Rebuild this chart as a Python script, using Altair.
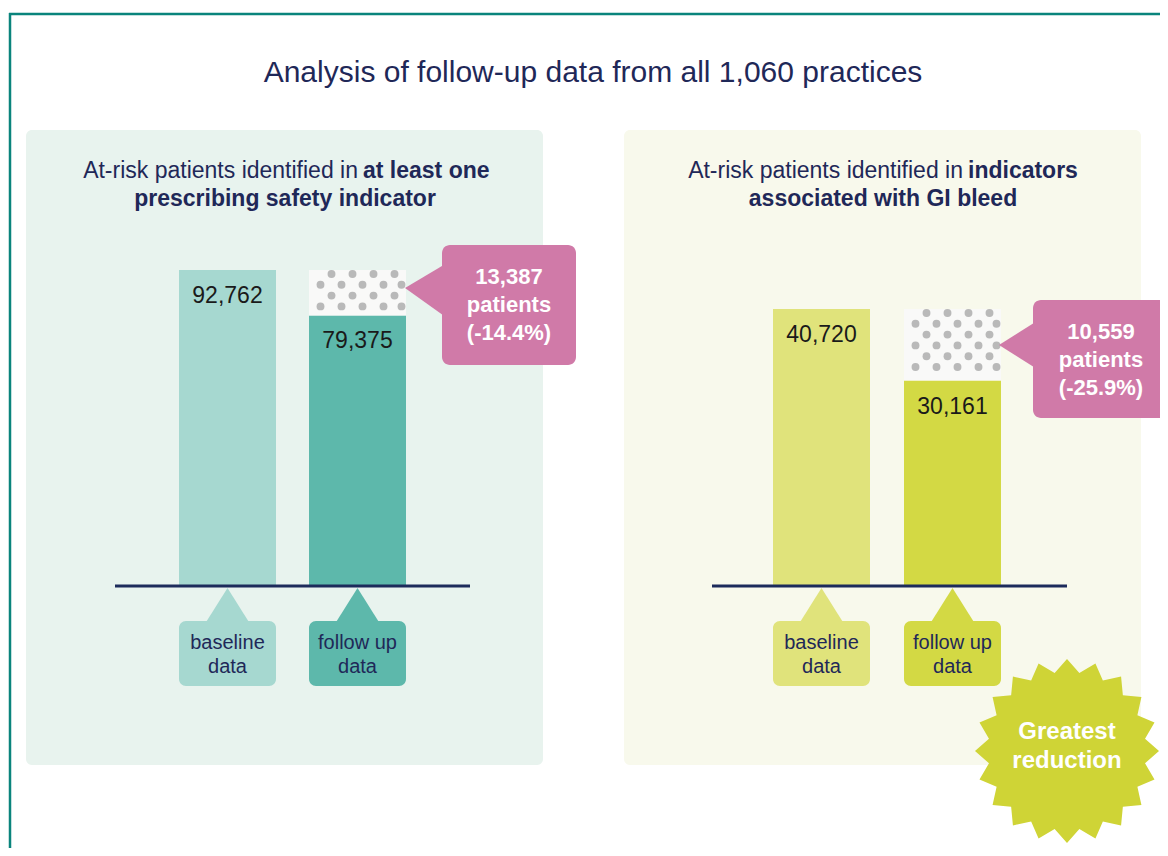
import math
import altair as alt
import pandas as pd

# ---------------- data ----------------
CATEGORIES = ["baseline data", "follow up data"]
ALL_VALUES = [92762, 79375]      # at least one prescribing safety indicator
GI_VALUES = [40720, 30161]       # indicators associated with GI bleed
REDUCTION_PATIENTS = [13387, 10559]
REDUCTION_PCT = ["-14.4%", "-25.9%"]
TITLE = "Analysis of follow-up data from all 1,060 practices"
HEAD_NORMAL = "At-risk patients identified in"
HEAD_BOLD_1 = ["at least one", "indicators"]
HEAD_BOLD_2 = ["prescribing safety indicator", "associated with GI bleed"]
TAG_LINES = [["baseline", "data"], ["follow up", "data"]]
BADGE_LINES = ["Greatest", "reduction"]

# ---------------- layout / style ----------------
OFF = 8
W, H = 1152, 840
FONT = "Liberation Sans"
NAVY = "#1f2858"
PINK = "#d07aa8"
TEAL_BORDER = "#0a847c"

PANELS = [
    dict(values=ALL_VALUES, bg=(26, 543, 130, 765), bgcol="#e8f3ee", band=(179, 406), pad=33 / 130,
         base_px=585, top_px=270, colors=["#a6d8d0", "#5db8ab"], axis=(115, 470),
         split=358, head_cx=285,
         callout=dict(rect=(442, 576, 245, 365), tri=[(405, 288), (447, 263), (447, 318)], cx=509, y=277)),
    dict(values=GI_VALUES, bg=(624, 1141, 130, 765), bgcol="#f8f9ec", band=(773, 1001), pad=34 / 131,
         base_px=585, top_px=309, colors=["#e0e37b", "#d3d944"], axis=(712, 1067),
         split=963, head_cx=883,
         callout=dict(rect=(1033, 1175, 300, 418), tri=[(999, 345), (1037, 321), (1037, 369)], cx=1101, y=332)),
]


def X(f="x"):
    return alt.X(f"{f}:Q", scale=None, axis=None)


def Y(f="y"):
    return alt.Y(f"{f}:Q", scale=None, axis=None)


def rect_px(x0, x1, y0, y1, color, r=0):
    d = pd.DataFrame({"x": [x0 - OFF], "x2": [x1 - OFF], "y": [y0 - OFF], "y2": [y1 - OFF]})
    return alt.Chart(d).mark_rect(color=color, cornerRadius=r, opacity=1).encode(
        x=X(), x2="x2:Q", y=Y(), y2="y2:Q")


def hline_px(x0, x1, y, color, w):
    d = pd.DataFrame({"x": [x0 - OFF], "x2": [x1 - OFF], "y": [y - OFF]})
    return alt.Chart(d).mark_rule(color=color, strokeWidth=w).encode(x=X(), x2="x2:Q", y=Y())


def vline_px(x, y0, y1, color, w):
    d = pd.DataFrame({"x": [x - OFF], "y": [y0 - OFF], "y2": [y1 - OFF]})
    return alt.Chart(d).mark_rule(color=color, strokeWidth=w).encode(x=X(), y=Y(), y2="y2:Q")


def text_px(x, y, lines, size, color, weight="normal", align="center", lh=28):
    d = pd.DataFrame({"x": [x - OFF] * len(lines),
                      "y": [y - OFF + i * lh for i in range(len(lines))],
                      "t": lines})
    return alt.Chart(d).mark_text(font=FONT, fontSize=size, fontWeight=weight, color=color,
                                  align=align, baseline="middle").encode(x=X(), y=Y(), text="t:N")


def poly_px(pts, color):
    xs_ = [p[0] for p in pts]
    ys_ = [p[1] for p in pts]
    cx = (min(xs_) + max(xs_)) / 2
    cy = (min(ys_) + max(ys_)) / 2
    s = max(max(abs(px - cx), abs(py - cy)) for px, py in pts)
    path = "M " + " L ".join(f"{(px - cx) / s:.4f} {(py - cy) / s:.4f}" for px, py in pts) + " Z"
    d = pd.DataFrame({"x": [cx - OFF], "y": [cy - OFF]})
    return alt.Chart(d).mark_point(shape=path, size=(2 * s) ** 2, filled=True, color=color,
                                   opacity=1, strokeWidth=0).encode(x=X(), y=Y())


def band_centers(p):
    x0, x1 = p["band"]
    step = (x1 - x0) / (2 - p["pad"])
    bw = step * (1 - p["pad"])
    return [x0 + i * step + bw / 2 for i in range(2)], bw


def y_scale(p):
    return alt.Scale(domain=[0, p["values"][0]], range=[p["base_px"] - OFF, p["top_px"] - OFF],
                     nice=False, zero=True)


def panel_chart(p):
    vals = p["values"]
    x0, x1 = p["band"]
    xs = alt.Scale(domain=CATEGORIES, range=[x0 - OFF, x1 - OFF], paddingInner=p["pad"], paddingOuter=0)
    ys = y_scale(p)
    cs = alt.Scale(domain=CATEGORIES, range=p["colors"])
    d = pd.DataFrame({"cat": CATEGORIES, "value": vals})
    bars = alt.Chart(d).mark_bar(opacity=1).encode(
        x=alt.X("cat:N", scale=xs, axis=None),
        y=alt.Y("value:Q", scale=ys, axis=None),
        color=alt.Color("cat:N", scale=cs, legend=None))
    gap = alt.Chart(pd.DataFrame({"cat": [CATEGORIES[1]], "hi": [vals[0]], "lo": [vals[1]]})).mark_bar(
        color="#f9f9f8", opacity=1).encode(
        x=alt.X("cat:N", scale=xs, axis=None),
        y=alt.Y("hi:Q", scale=ys, axis=None), y2="lo:Q")
    labels = alt.Chart(d).mark_text(font=FONT, fontSize=23, color="#1a1a1a", baseline="middle", dy=26).encode(
        x=alt.X("cat:N", scale=xs, axis=None),
        y=alt.Y("value:Q", scale=ys, axis=None),
        text=alt.Text("value:Q", format=","))
    return alt.layer(bars, gap, labels)


ROW_A = [-26, -5, 16, 37]
ROW_B = [-37, -16, 5, 26, 44]


def dots_chart(p):
    vals = p["values"]
    base, top = p["base_px"], p["top_px"]
    ppu = (base - top) / vals[0]
    solid_top = base - vals[1] * ppu
    centers, _ = band_centers(p)
    cx = centers[1]
    rows = []
    k = 0
    yy = top + 4
    while yy + 3 <= solid_top:
        for o in (ROW_A if k % 2 == 0 else ROW_B):
            rows.append({"x": cx + o - OFF, "v": (base - yy) / ppu})
        k += 1
        yy += 10.8
    return alt.Chart(pd.DataFrame(rows)).mark_point(shape="circle", size=62, filled=True, color="#b9b9b9",
                                                    opacity=1, strokeWidth=0).encode(
        x=X(), y=alt.Y("v:Q", scale=y_scale(p), axis=None))


layers = []
# frame
layers.append(hline_px(9, 1170, 14, TEAL_BORDER, 2.5))
layers.append(vline_px(10, 13, 870, TEAL_BORDER, 2.5))
# title
layers.append(text_px(593, 73, [TITLE], 30, NAVY))

for i, p in enumerate(PANELS):
    bx0, bx1, by0, by1 = p["bg"]
    layers.append(rect_px(bx0, bx1, by0, by1, p["bgcol"], r=6))
    layers.append(text_px(p["split"], 171, [HEAD_NORMAL], 23, NAVY, align="right"))
    layers.append(text_px(p["split"] + 5, 171, [HEAD_BOLD_1[i]], 23, NAVY, weight="bold", align="left"))
    layers.append(text_px(p["head_cx"], 199, [HEAD_BOLD_2[i]], 23, NAVY, weight="bold"))

for i, p in enumerate(PANELS):
    layers.append(panel_chart(p))
    layers.append(dots_chart(p))
    ax0, ax1 = p["axis"]
    layers.append(hline_px(ax0, ax1, 586, "#1c2b5b", 3))
    centers, bw = band_centers(p)
    for j, c in enumerate(centers):
        col = p["colors"][j]
        layers.append(poly_px([(c, 588), (c + 22, 623), (c - 22, 623)], col))
        layers.append(rect_px(c - bw / 2, c + bw / 2, 621, 686, col, r=7))
        layers.append(text_px(c, 643, TAG_LINES[j], 20, NAVY, lh=24))
    co = p["callout"]
    rx0, rx1, ry0, ry1 = co["rect"]
    layers.append(poly_px(co["tri"], PINK))
    layers.append(rect_px(rx0, rx1, ry0, ry1, PINK, r=8))
    layers.append(text_px(co["cx"], co["y"],
                          [f"{REDUCTION_PATIENTS[i]:,}", "patients", f"({REDUCTION_PCT[i]})"],
                          22, "white", weight="bold", lh=28))

# starburst badge
N = 20
cx, cy, r_out, r_in = 1067, 751, 92, 79
star = []
for k in range(2 * N):
    ang = -math.pi / 2 + k * math.pi / N
    r = r_out if k % 2 == 0 else r_in
    star.append((cx + r * math.cos(ang), cy + r * math.sin(ang)))
layers.append(poly_px(star, "#cfd436"))
layers.append(text_px(cx, 732, BADGE_LINES, 24, "white", weight="bold", lh=29))

chart = alt.layer(*layers).properties(
    width=W, height=H, padding=0, autosize=alt.AutoSizeParams(type="none"), background="white"
).resolve_scale(x="independent", y="independent", color="independent").configure_view(stroke=None)

chart.save("out.html", embed_options={"renderer": "svg", "actions": False})
